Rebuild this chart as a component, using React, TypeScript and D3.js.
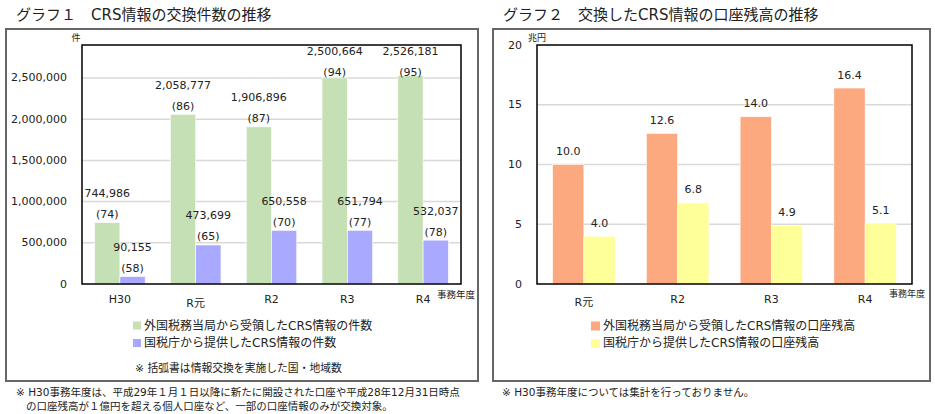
import React from "react";
import * as d3 from "d3";

const years1 = ["H30", "R元", "R2", "R3", "R4"];
const received = [744986, 2058777, 1906896, 2500664, 2526181];
const receivedCountries = [74, 86, 87, 94, 95];
const provided = [90155, 473699, 650558, 651794, 532037];
const providedCountries = [58, 65, 70, 77, 78];
const ticks1 = [0, 500000, 1000000, 1500000, 2000000, 2500000];

const years2 = ["R元", "R2", "R3", "R4"];
const balanceReceived = [10.0, 12.6, 14.0, 16.4];
const balanceProvided = [4.0, 6.8, 4.9, 5.1];
const ticks2 = [0, 5, 10, 15, 20];

const FONT = "'DejaVu Sans', 'Noto Sans CJK JP', sans-serif";
const TXT = "#222";
const GREEN = "#C5E0B4";
const BLUE = "#A9A9FF";
const ORANGE = "#FCA980";
const YELLOW = "#FFFF99";
const fmt = d3.format(",");
const hasCJK = (s: string) => /[^\x00-\x7F]/.test(s);

const plotTop = 45;
const plotBottom = 284;

function Chart1() {
  const x = d3.scaleBand<string>().domain(years1).range([82, 461]);
  const y = d3.scaleLinear().domain([0, 2900000]).range([plotBottom, plotTop]);
  const bw = x.bandwidth() / 3;
  const series = [
    { vals: received, counts: receivedCountries, color: GREEN, off: bw / 2 },
    { vals: provided, counts: providedCountries, color: BLUE, off: bw / 2 + bw },
  ];
  return (
    <g>
      <rect x={6} y={29} width={472} height={352} fill="#fff" stroke="#666" strokeWidth={2} />
      {ticks1.map((t) => (
        <g key={t}>
          {t > 0 && <line x1={82} x2={461} y1={y(t)} y2={y(t)} stroke="#D9D9D9" strokeWidth={1.5} />}
          <text x={67} y={y(t)} textAnchor="end" dominantBaseline="central" fontSize={11} fill={TXT}>
            {fmt(t)}
          </text>
        </g>
      ))}
      {series.map((s, si) =>
        years1.map((yr, i) => {
          const x0 = (x(yr) as number) + s.off;
          const top = y(s.vals[i]);
          const cy = Math.max(top - 8, plotTop + 27);
          return (
            <g key={si + yr}>
              <rect x={x0} y={top} width={bw} height={plotBottom - top} fill={s.color} stroke="#fff" strokeWidth={0.6} />
              <text x={x0 + bw / 2} y={cy - 21} textAnchor="middle" dominantBaseline="central" fontSize={11} fill={TXT}>
                {fmt(s.vals[i])}
              </text>
              <text x={x0 + bw / 2} y={cy} textAnchor="middle" dominantBaseline="central" fontSize={11} fill={TXT}>
                ({s.counts[i]})
              </text>
            </g>
          );
        })
      )}
      <rect x={82} y={plotTop} width={379} height={plotBottom - plotTop} fill="none" stroke="#000" strokeWidth={1.5} />
      {years1.map((yr) => (
        <text key={yr} x={(x(yr) as number) + x.bandwidth() / 2} y={hasCJK(yr) ? 303 : 299.5} textAnchor="middle" dominantBaseline="central" fontSize={11} fill={TXT}>
          {yr}
        </text>
      ))}
      <text x={76} y={38} textAnchor="middle" dominantBaseline="central" fontSize={9} fill={TXT}>件</text>
      <text x={437} y={294} dominantBaseline="central" fontSize={9.5} fill={TXT}>事務年度</text>
      <rect x={133} y={321.5} width={8} height={8} fill={GREEN} />
      <text x={144} y={325.5} dominantBaseline="central" fontSize={12} fill={TXT}>外国税務当局から受領したCRS情報の件数</text>
      <rect x={133} y={339} width={8} height={8} fill={BLUE} />
      <text x={144} y={343} dominantBaseline="central" fontSize={12} fill={TXT}>国税庁から提供したCRS情報の件数</text>
      <text x={135} y={368} dominantBaseline="central" fontSize={10.8} fill={TXT}>※ 括弧書は情報交換を実施した国・地域数</text>
      <text x={16} y={392} dominantBaseline="central" fontSize={10.5} fill={TXT}>
        ※ H30事務年度は、平成29年１月１日以降に新たに開設された口座や平成28年12月31日時点
      </text>
      <text x={26} y={406} dominantBaseline="central" fontSize={10.5} fill={TXT}>
        の口座残高が１億円を超える個人口座など、一部の口座情報のみが交換対象。
      </text>
      <text x={16} y={15} dominantBaseline="central" fontSize={15} fill={TXT}>グラフ１　CRS情報の交換件数の推移</text>
    </g>
  );
}

function Chart2() {
  const x = d3.scaleBand<string>().domain(years2).range([537, 912]);
  const y = d3.scaleLinear().domain([0, 20]).range([plotBottom, plotTop]);
  const bw = x.bandwidth() / 3;
  const series = [
    { vals: balanceReceived, color: ORANGE, off: bw / 2 },
    { vals: balanceProvided, color: YELLOW, off: bw / 2 + bw },
  ];
  return (
    <g>
      <rect x={493} y={29} width={437} height={352} fill="#fff" stroke="#666" strokeWidth={2} />
      {ticks2.map((t) => (
        <g key={t}>
          {t > 0 && t < 20 && <line x1={537} x2={912} y1={y(t)} y2={y(t)} stroke="#D9D9D9" strokeWidth={1.5} />}
          <text x={522} y={y(t)} textAnchor="end" dominantBaseline="central" fontSize={11} fill={TXT}>
            {t}
          </text>
        </g>
      ))}
      {series.map((s, si) =>
        years2.map((yr, i) => {
          const x0 = (x(yr) as number) + s.off;
          const top = y(s.vals[i]);
          return (
            <g key={si + yr}>
              <rect x={x0} y={top} width={bw} height={plotBottom - top} fill={s.color} stroke="#fff" strokeWidth={0.6} />
              <text x={x0 + bw / 2} y={top - 13} textAnchor="middle" dominantBaseline="central" fontSize={11} fill={TXT}>
                {d3.format(".1f")(s.vals[i])}
              </text>
            </g>
          );
        })
      )}
      <rect x={537} y={plotTop} width={375} height={plotBottom - plotTop} fill="none" stroke="#000" strokeWidth={1.5} />
      {years2.map((yr) => (
        <text key={yr} x={(x(yr) as number) + x.bandwidth() / 2} y={hasCJK(yr) ? 302 : 299.5} textAnchor="middle" dominantBaseline="central" fontSize={11} fill={TXT}>
          {yr}
        </text>
      ))}
      <text x={537} y={38} textAnchor="middle" dominantBaseline="central" fontSize={9} fill={TXT}>兆円</text>
      <text x={889} y={294} dominantBaseline="central" fontSize={9} fill={TXT}>事務年度</text>
      <rect x={591} y={321.5} width={9} height={9} fill={ORANGE} />
      <text x={603} y={325.5} dominantBaseline="central" fontSize={12} fill={TXT}>外国税務当局から受領したCRS情報の口座残高</text>
      <rect x={591} y={339} width={9} height={9} fill={YELLOW} />
      <text x={603} y={343} dominantBaseline="central" fontSize={12} fill={TXT}>国税庁から提供したCRS情報の口座残高</text>
      <text x={502} y={392} dominantBaseline="central" fontSize={10.5} fill={TXT}>※ H30事務年度については集計を行っておりません。</text>
      <text x={503} y={15} dominantBaseline="central" fontSize={15} fill={TXT}>グラフ２　交換したCRS情報の口座残高の推移</text>
    </g>
  );
}

export default function App() {
  return (
    <svg width={935} height={414} style={{ position: "absolute", left: 0, top: 0, background: "#fff" }} fontFamily={FONT}>
      <rect x={0} y={0} width={935} height={414} fill="#fff" />
      <Chart1 />
      <Chart2 />
    </svg>
  );
}
